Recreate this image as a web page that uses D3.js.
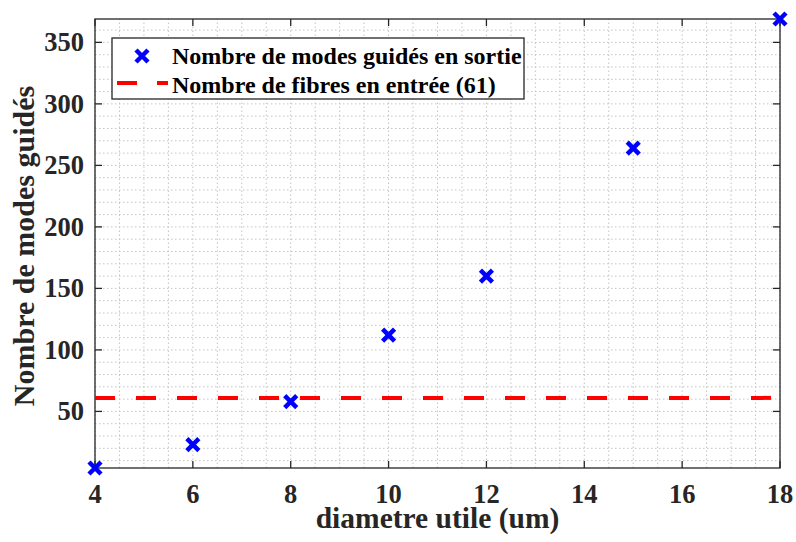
<!DOCTYPE html>
<html>
<head>
<meta charset="utf-8">
<script src="https://cdn.jsdelivr.net/npm/d3@7"></script>
<style>
  body { margin: 0; background: #fff; }
  svg { display: block; }
</style>
</head>
<body>
<div id="chart"></div>
<script>
// data
const diametres = [4, 6, 8, 10, 12, 15, 18]
const modes = [4, 23, 58, 112, 160, 264, 369]
const nbFibres = 61
const xTicks = [4, 6, 8, 10, 12, 14, 16, 18]
const yTicks = [50, 100, 150, 200, 250, 300, 350]
const legendLabels = ["Nombre de modes guidés en sortie", "Nombre de fibres en entrée (61)"]

const width = 796, height = 542
const margin = { left: 95, right: 16, top: 19, bottom: 74 }

let svg = d3.select("#chart")
    .append("svg")
    .attr("width", width)
    .attr("height", height)
    .attr("font-family", "Liberation Serif")
    .attr("font-weight", "bold")

let x = d3.scaleLinear().domain([4, 18]).range([margin.left, width - margin.right])
let y = d3.scaleLinear().domain([4, 369]).range([height - margin.bottom, margin.top])

let x0 = x.range()[0], x1 = x.range()[1]
let y0 = y.range()[0], y1 = y.range()[1]

// grille (mineure + majeure, pointillée)
let grid = svg.append("g")
    .attr("stroke", "#c4c4c4")
    .attr("stroke-width", 1)
    .attr("stroke-dasharray", "1.5,2.5")
d3.range(4, 18.001, 0.5).forEach(v => {
    grid.append("line").attr("x1", x(v)).attr("x2", x(v)).attr("y1", y0).attr("y2", y1)
})
d3.range(10, 369, 10).forEach(v => {
    grid.append("line").attr("x1", x0).attr("x2", x1).attr("y1", y(v)).attr("y2", y(v))
})

// axes (ticks vers l'intérieur, boîte complète)
let tickLen = 7
let axisColor = "#262626"
let axG = svg.append("g").attr("stroke", axisColor).attr("stroke-width", 1.3)
xTicks.forEach(v => {
    axG.append("line").attr("x1", x(v)).attr("x2", x(v)).attr("y1", y0).attr("y2", y0 - tickLen)
    axG.append("line").attr("x1", x(v)).attr("x2", x(v)).attr("y1", y1).attr("y2", y1 + tickLen)
})
yTicks.forEach(v => {
    axG.append("line").attr("x1", x0).attr("x2", x0 + tickLen).attr("y1", y(v)).attr("y2", y(v))
    axG.append("line").attr("x1", x1).attr("x2", x1 - tickLen).attr("y1", y(v)).attr("y2", y(v))
})
axG.append("rect")
    .attr("x", x0).attr("y", y1)
    .attr("width", x1 - x0).attr("height", y0 - y1)
    .attr("fill", "none")

svg.append("g").selectAll("text")
    .data(xTicks)
    .enter()
    .append("text")
    .attr("x", d => x(d))
    .attr("y", y0 + 35)
    .attr("text-anchor", "middle")
    .attr("font-size", 26.5)
    .attr("fill", axisColor)
    .text(d => d)

svg.append("g").selectAll("text")
    .data(yTicks)
    .enter()
    .append("text")
    .attr("x", x0 - 11)
    .attr("y", d => y(d) + 9)
    .attr("text-anchor", "end")
    .attr("font-size", 26.5)
    .attr("fill", axisColor)
    .text(d => d)

svg.append("text")
    .attr("x", (x0 + x1) / 2)
    .attr("y", 528)
    .attr("text-anchor", "middle")
    .attr("font-size", 29.5)
    .attr("fill", axisColor)
    .text("diametre utile (um)")

svg.append("text")
    .attr("transform", `translate(34,246) rotate(-90)`)
    .attr("text-anchor", "middle")
    .attr("font-size", 30)
    .attr("fill", axisColor)
    .text("Nombre de modes guidés")

// ligne de référence
svg.append("line")
    .attr("x1", x0).attr("x2", x1)
    .attr("y1", y(nbFibres)).attr("y2", y(nbFibres))
    .attr("stroke", "#ff0000")
    .attr("stroke-width", 4)
    .attr("stroke-dasharray", "20,21")

// marqueurs x
const cross = "M-6,-6L6,6M-6,6L6,-6"
svg.append("g").selectAll("path")
    .data(diametres)
    .enter()
    .append("path")
    .attr("transform", (d, i) => `translate(${x(d)},${y(modes[i])})`)
    .attr("d", cross)
    .attr("stroke", "#0000ff")
    .attr("stroke-width", 4.5)
    .attr("fill", "none")

// légende
let lg = svg.append("g")
lg.append("rect")
    .attr("x", 112).attr("y", 38)
    .attr("width", 412).attr("height", 61)
    .attr("fill", "#fff")
    .attr("stroke", axisColor)
    .attr("stroke-width", 1.3)
lg.append("path")
    .attr("transform", "translate(142,56)")
    .attr("d", cross)
    .attr("stroke", "#0000ff")
    .attr("stroke-width", 4.5)
    .attr("fill", "none")
lg.append("line")
    .attr("x1", 117).attr("x2", 168)
    .attr("y1", 83).attr("y2", 83)
    .attr("stroke", "#ff0000")
    .attr("stroke-width", 4)
    .attr("stroke-dasharray", "20,20")
lg.selectAll("text.lg")
    .data(legendLabels)
    .enter()
    .append("text")
    .attr("class", "lg")
    .attr("x", 172)
    .attr("y", (d, i) => 64 + i * 29)
    .attr("font-size", 24)
    .attr("fill", "#000")
    .text(d => d)
</script>
</body>
</html>
